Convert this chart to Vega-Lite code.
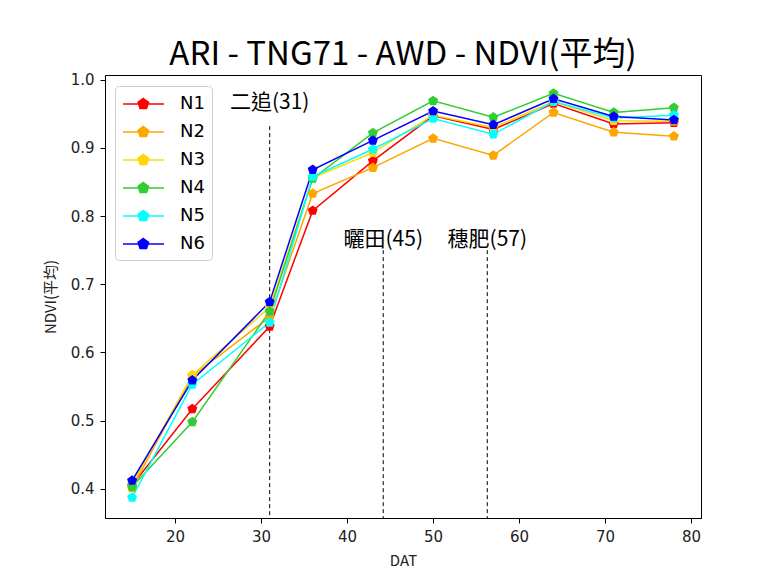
{
  "$schema": "https://vega.github.io/schema/vega-lite/v6.json",
  "width": 596,
  "height": 443,
  "autosize": "none",
  "padding": {"left": 105, "top": 75, "right": 67, "bottom": 65},
  "background": "white",
  "title": {"text": "ARI - TNG71 - AWD - NDVI(平均)", "fontSize": 33, "font": "Noto Sans CJK TC", "fontWeight": "normal", "color": "black", "anchor": "middle", "offset": 1},
  "config": {
    "view": {"stroke": "black", "strokeWidth": 1},
    "axis": {"grid": false, "domainColor": "black", "tickColor": "black", "labelColor": "#222", "labelFont": "DejaVu Sans", "labelFontSize": 15, "labelPadding": 6, "tickSize": 5, "titleFont": "Noto Sans CJK TC", "titleFontSize": 15, "titleFontWeight": "normal", "titleColor": "#222"}
  },
  "datasets": {
    "ndvi": [
      {"dat": 15, "s": "N1", "v": 0.405}, {"dat": 22, "s": "N1", "v": 0.517}, {"dat": 31, "s": "N1", "v": 0.638}, {"dat": 36, "s": "N1", "v": 0.808}, {"dat": 43, "s": "N1", "v": 0.881}, {"dat": 50, "s": "N1", "v": 0.947}, {"dat": 57, "s": "N1", "v": 0.927}, {"dat": 64, "s": "N1", "v": 0.965}, {"dat": 71, "s": "N1", "v": 0.935}, {"dat": 78, "s": "N1", "v": 0.937},
      {"dat": 15, "s": "N2", "v": 0.401}, {"dat": 22, "s": "N2", "v": 0.565}, {"dat": 31, "s": "N2", "v": 0.652}, {"dat": 36, "s": "N2", "v": 0.833}, {"dat": 43, "s": "N2", "v": 0.871}, {"dat": 50, "s": "N2", "v": 0.914}, {"dat": 57, "s": "N2", "v": 0.889}, {"dat": 64, "s": "N2", "v": 0.952}, {"dat": 71, "s": "N2", "v": 0.923}, {"dat": 78, "s": "N2", "v": 0.917},
      {"dat": 15, "s": "N3", "v": 0.406}, {"dat": 22, "s": "N3", "v": 0.567}, {"dat": 31, "s": "N3", "v": 0.666}, {"dat": 36, "s": "N3", "v": 0.856}, {"dat": 43, "s": "N3", "v": 0.893}, {"dat": 50, "s": "N3", "v": 0.948}, {"dat": 57, "s": "N3", "v": 0.930}, {"dat": 64, "s": "N3", "v": 0.968}, {"dat": 71, "s": "N3", "v": 0.940}, {"dat": 78, "s": "N3", "v": 0.939},
      {"dat": 15, "s": "N4", "v": 0.403}, {"dat": 22, "s": "N4", "v": 0.498}, {"dat": 31, "s": "N4", "v": 0.660}, {"dat": 36, "s": "N4", "v": 0.855}, {"dat": 43, "s": "N4", "v": 0.922}, {"dat": 50, "s": "N4", "v": 0.969}, {"dat": 57, "s": "N4", "v": 0.945}, {"dat": 64, "s": "N4", "v": 0.980}, {"dat": 71, "s": "N4", "v": 0.952}, {"dat": 78, "s": "N4", "v": 0.959},
      {"dat": 15, "s": "N5", "v": 0.387}, {"dat": 22, "s": "N5", "v": 0.553}, {"dat": 31, "s": "N5", "v": 0.644}, {"dat": 36, "s": "N5", "v": 0.858}, {"dat": 43, "s": "N5", "v": 0.898}, {"dat": 50, "s": "N5", "v": 0.943}, {"dat": 57, "s": "N5", "v": 0.920}, {"dat": 64, "s": "N5", "v": 0.968}, {"dat": 71, "s": "N5", "v": 0.944}, {"dat": 78, "s": "N5", "v": 0.948},
      {"dat": 15, "s": "N6", "v": 0.412}, {"dat": 22, "s": "N6", "v": 0.559}, {"dat": 31, "s": "N6", "v": 0.674}, {"dat": 36, "s": "N6", "v": 0.868}, {"dat": 43, "s": "N6", "v": 0.911}, {"dat": 50, "s": "N6", "v": 0.954}, {"dat": 57, "s": "N6", "v": 0.934}, {"dat": 64, "s": "N6", "v": 0.972}, {"dat": 71, "s": "N6", "v": 0.946}, {"dat": 78, "s": "N6", "v": 0.941}
    ],
    "events": [
      {"dat": 31, "top": 0.932, "label": "二追(31)", "ly": 0.966},
      {"dat": 44.2, "top": 0.75, "label": "曬田(45)", "ly": 0.765},
      {"dat": 56.3, "top": 0.75, "label": "穗肥(57)", "ly": 0.765}
    ]
  },
  "layer": [
    {
      "data": {"name": "events"},
      "mark": {"type": "rule", "color": "black", "strokeWidth": 1, "strokeDash": [4, 3]},
      "encoding": {
        "x": {"field": "dat", "type": "quantitative", "scale": {"domain": [11.85, 81.15], "nice": false, "zero": false}},
        "y": {"field": "top", "type": "quantitative"},
        "y2": {"datum": 0.357}
      }
    },
    {
      "data": {"name": "events"},
      "mark": {"type": "text", "font": "Noto Sans CJK TC", "fontSize": 21, "color": "black", "baseline": "middle", "align": "center"},
      "encoding": {
        "x": {"field": "dat", "type": "quantitative"},
        "y": {"field": "ly", "type": "quantitative"},
        "text": {"field": "label"}
      }
    },
    {
      "data": {"name": "ndvi"},
      "mark": {"type": "line", "strokeWidth": 1.5, "point": {"filled": true, "size": 110, "shape": "M0,-1L0.951,-0.309L0.588,0.809L-0.588,0.809L-0.951,-0.309Z", "opacity": 1}},
      "encoding": {
        "x": {"field": "dat", "type": "quantitative", "title": "DAT", "scale": {"domain": [11.85, 81.15], "nice": false, "zero": false}, "axis": {"values": [20, 30, 40, 50, 60, 70, 80], "titlePadding": 9}},
        "y": {"field": "v", "type": "quantitative", "title": "NDVI(平均)", "scale": {"domain": [0.357, 1.007], "nice": false, "zero": false}, "axis": {"values": [0.4, 0.5, 0.6, 0.7, 0.8, 0.9, 1.0], "format": ".1f", "titlePadding": 12}},
        "color": {
          "field": "s", "type": "nominal",
          "scale": {"domain": ["N1", "N2", "N3", "N4", "N5", "N6"], "range": ["#ff0000", "#ffa500", "#ffd700", "#32cd32", "#00ffff", "#0000ff"]},
          "legend": {
            "title": null, "orient": "none", "legendX": 10, "legendY": 11,
            "symbolType": "M-1,0L3.1,0M1.03,-0.55L1.553,-0.17L1.353,0.445L0.707,0.445L0.507,-0.17Z",
            "symbolSize": 400, "symbolStrokeWidth": 1.5,
            "labelFont": "DejaVu Sans", "labelFontSize": 18, "labelColor": "black", "labelOffset": 36,
            "labelExpr": "datum.label + ' '",
            "padding": 7, "rowPadding": 8,
            "fillColor": "white", "strokeColor": "#cccccc", "cornerRadius": 4,
            "encode": {"symbols": {"update": {"fill": {"scale": "color", "field": "value"}, "stroke": {"scale": "color", "field": "value"}, "opacity": {"value": 1}}}}
          }
        },
        "detail": {"field": "s"}
      }
    }
  ]
}
